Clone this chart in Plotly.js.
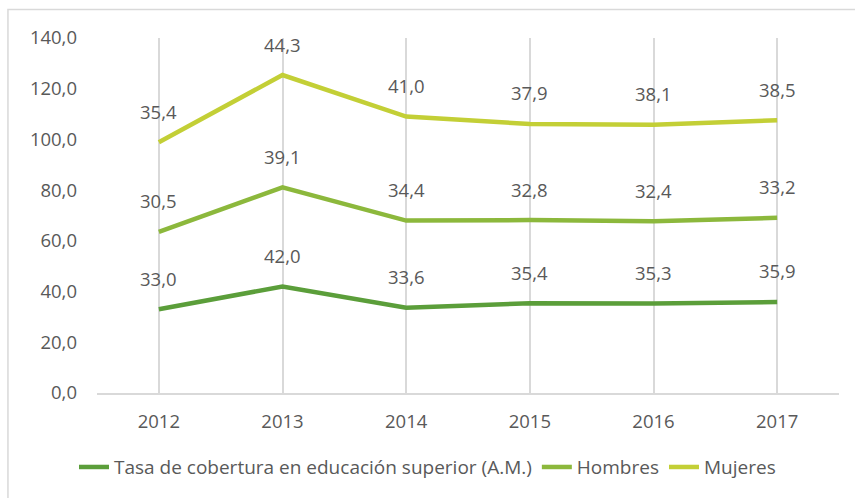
<!DOCTYPE html>
<html>
<head>
<meta charset="utf-8">
<script src="https://cdn.plot.ly/plotly-3.0.1.min.js"></script>
<style>
  body { margin: 0; background: #fff; }
  #chart { width: 855px; height: 498px; }
</style>
</head>
<body>
<div id="chart"></div>
<script>
var years = ["2012", "2013", "2014", "2015", "2016", "2017"];
var tasa = [33.0, 42.0, 33.6, 35.4, 35.3, 35.9];
var hombres = [30.5, 39.1, 34.4, 32.8, 32.4, 33.2];
var mujeres = [35.4, 44.3, 41.0, 37.9, 38.1, 38.5];

var names = ["Tasa de cobertura en educación superior (A.M.)", "Hombres", "Mujeres"];
var colors = ["#5b9e3a", "#8cb83c", "#c3cf36"];
var series = [tasa, hombres, mujeres];

var fontFam = "'Open Sans', sans-serif";
var txtColor = "#595959";

// stacked lines, labels show each series' own value
var traces = [];
var annots = [];
var cum = [0, 0, 0, 0, 0, 0];
for (var s = 0; s < series.length; s++) {
  traces.push({
    x: years,
    y: series[s],
    type: "scatter",
    mode: "lines",
    stackgroup: "one",
    fill: "none",
    name: names[s],
    line: { color: colors[s], width: 4.5 },
    hoverinfo: "none"
  });
  for (var i = 0; i < years.length; i++) {
    cum[i] += series[s][i];
    annots.push({
      x: i,
      y: cum[i],
      xref: "x",
      yref: "y",
      text: series[s][i].toFixed(1).replace(".", ","),
      showarrow: false,
      yshift: 31,
      font: { family: fontFam, size: 18.5, color: txtColor }
    });
  }
}

var layout = {
  width: 855,
  height: 498,
  margin: { l: 97, r: 16, t: 37.5, b: 105 },
  paper_bgcolor: "#fff",
  plot_bgcolor: "#fff",
  separators: ",.",
  font: { family: fontFam, size: 18.5, color: txtColor },
  showlegend: true,
  legend: {
    orientation: "h",
    x: 0.5,
    xanchor: "center",
    xref: "container",
    y: 0.062,
    yref: "container",
    yanchor: "middle",
    font: { family: fontFam, size: 19, color: txtColor },
    traceorder: "normal"
  },
  xaxis: {
    type: "category",
    range: [-0.5, 5.5],
    showgrid: true,
    gridcolor: "#d9d9d9",
    gridwidth: 1.5,
    showline: true,
    linecolor: "#d9d9d9",
    linewidth: 1.5,
    ticks: "",
    ticklabelstandoff: 11,
    fixedrange: true
  },
  yaxis: {
    range: [0, 140],
    dtick: 20,
    tickformat: ".1f",
    showgrid: false,
    zeroline: false,
    showline: false,
    ticks: "",
    ticklabelstandoff: 19,
    fixedrange: true
  },
  annotations: annots,
  shapes: [{
    type: "rect",
    xref: "paper",
    yref: "paper",
    x0: -0.12,
    x1: 1.5,
    y0: -1,
    y1: 1.08,
    line: { color: "#d9d9d9", width: 1.5 },
    layer: "below"
  }]
};

Plotly.newPlot("chart", traces, layout, { displayModeBar: false });
</script>
</body>
</html>
